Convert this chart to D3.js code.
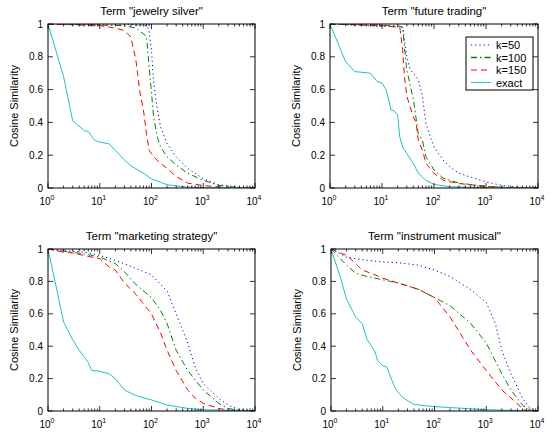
<!DOCTYPE html>
<html>
<head>
<meta charset="utf-8">
<script src="https://cdn.jsdelivr.net/npm/d3@7"></script>
<style>
  body { margin: 0; background: #fff; }
  svg { display: block; font-family: "Liberation Sans", Arial, sans-serif; }
</style>
</head>
<body>
<svg id="chart" width="558" height="434"></svg>
<script>
// values, [rank, similarity]
const seriesNames = ['k=50', 'k=100', 'k=150', 'exact']
const titles = ['Term "jewelry silver"', 'Term "future trading"', 'Term "marketing strategy"', 'Term "instrument musical"']
const yTicks = [0, 0.2, 0.4, 0.6, 0.8, 1]
const yTickLabels = ['0', '0.2', '0.4', '0.6', '0.8', '1']
const xTicks = [1, 10, 100, 1000, 10000]

const jewelryK50 = [[1, 1], [30, 1], [80, 0.99], [90, 0.96], [100, 0.84], [110, 0.64], [130, 0.475], [150, 0.37], [200, 0.27], [300, 0.19], [500, 0.12], [1000, 0.057], [2000, 0.02], [5000, 0.003], [10000, 0]]
const jewelryK100 = [[1, 1], [30, 0.99], [50, 0.975], [80, 0.925], [90, 0.74], [100, 0.58], [110, 0.43], [130, 0.31], [150, 0.25], [200, 0.19], [300, 0.14], [500, 0.09], [1000, 0.047], [2000, 0.016], [5000, 0.002], [10000, 0]]
const jewelryK150 = [[1, 1], [10, 0.99], [20, 0.975], [30, 0.96], [40, 0.92], [50, 0.78], [60, 0.58], [70, 0.475], [80, 0.33], [90, 0.23], [110, 0.19], [150, 0.15], [200, 0.12], [300, 0.07], [500, 0.03], [1000, 0.015], [3000, 0.002], [10000, 0]]
const jewelryExact = [[1, 1], [2, 0.68], [3, 0.41], [5, 0.35], [6, 0.345], [8, 0.29], [10, 0.28], [15, 0.27], [20, 0.23], [30, 0.17], [40, 0.135], [70, 0.09], [100, 0.055], [200, 0.02], [500, 0.005], [1000, 0.002], [10000, 0]]

const futureK50 = [[1, 1], [25, 0.98], [30, 0.8], [35, 0.72], [40, 0.7], [50, 0.66], [60, 0.56], [70, 0.39], [100, 0.25], [150, 0.17], [200, 0.13], [300, 0.09], [500, 0.067], [1000, 0.037], [2000, 0.016], [5000, 0.003], [10000, 0]]
const futureK100 = [[1, 1], [20, 0.99], [25, 0.98], [27, 0.86], [30, 0.72], [40, 0.54], [50, 0.33], [60, 0.29], [70, 0.19], [100, 0.11], [150, 0.06], [300, 0.03], [1000, 0.01], [3000, 0.002], [10000, 0]]
const futureK150 = [[1, 1], [10, 0.99], [22, 0.98], [25, 0.84], [27, 0.68], [30, 0.56], [40, 0.435], [45, 0.4], [50, 0.29], [60, 0.23], [70, 0.15], [100, 0.09], [150, 0.047], [300, 0.027], [1000, 0.01], [3000, 0.002], [10000, 0]]
const futureExact = [[1, 1], [2, 0.77], [3, 0.71], [6, 0.7], [8, 0.65], [10, 0.64], [12, 0.6], [15, 0.475], [17, 0.47], [20, 0.445], [22, 0.31], [25, 0.25], [30, 0.21], [40, 0.15], [50, 0.09], [70, 0.047], [100, 0.022], [200, 0.008], [1000, 0.002], [10000, 0]]

const marketingK50 = [[1, 1], [2, 0.99], [5, 0.98], [10, 0.96], [20, 0.93], [50, 0.88], [100, 0.84], [200, 0.74], [300, 0.6], [500, 0.42], [700, 0.27], [1000, 0.17], [2000, 0.078], [3000, 0.037], [5000, 0.008], [10000, 0]]
const marketingK100 = [[1, 1], [5, 0.97], [10, 0.95], [20, 0.91], [30, 0.86], [50, 0.78], [100, 0.7], [150, 0.62], [200, 0.54], [300, 0.375], [500, 0.25], [1000, 0.13], [2000, 0.047], [3000, 0.016], [5000, 0.003], [10000, 0]]
const marketingK150 = [[1, 1], [2, 0.98], [3, 0.975], [5, 0.96], [10, 0.94], [15, 0.89], [20, 0.87], [30, 0.79], [50, 0.72], [70, 0.66], [100, 0.6], [150, 0.48], [200, 0.375], [300, 0.25], [500, 0.13], [700, 0.08], [1000, 0.047], [2000, 0.016], [3000, 0.005], [10000, 0]]
const marketingExact = [[1, 1], [1.5, 0.74], [2, 0.55], [3, 0.44], [4, 0.375], [6, 0.3], [7, 0.25], [10, 0.245], [15, 0.23], [20, 0.2], [30, 0.13], [50, 0.095], [100, 0.068], [200, 0.037], [500, 0.016], [1000, 0.008], [10000, 0.001]]

const musicalK50 = [[1, 1], [2, 0.95], [3, 0.94], [5, 0.93], [10, 0.92], [20, 0.915], [50, 0.9], [100, 0.87], [200, 0.83], [500, 0.75], [1000, 0.67], [1500, 0.54], [2000, 0.375], [3000, 0.23], [5000, 0.08], [7000, 0.016], [10000, 0]]
const musicalK100 = [[1, 1], [2, 0.9], [3, 0.85], [5, 0.83], [10, 0.81], [20, 0.79], [50, 0.75], [100, 0.7], [200, 0.65], [500, 0.54], [1000, 0.42], [2000, 0.23], [3000, 0.13], [5000, 0.037], [7000, 0.005], [10000, 0]]
const musicalK150 = [[1, 1], [2, 0.96], [3, 0.91], [4, 0.87], [6, 0.85], [10, 0.82], [20, 0.79], [50, 0.75], [100, 0.7], [200, 0.58], [300, 0.49], [500, 0.375], [1000, 0.25], [2000, 0.13], [3000, 0.08], [5000, 0.016], [6000, 0.003], [10000, 0]]
const musicalExact = [[1, 1], [1.5, 0.83], [2, 0.69], [3, 0.58], [4, 0.54], [5, 0.44], [7, 0.37], [8, 0.31], [10, 0.28], [12, 0.27], [15, 0.19], [18, 0.13], [25, 0.08], [40, 0.04], [100, 0.027], [1000, 0.008], [10000, 0]]

const panels = [
  [jewelryK50, jewelryK100, jewelryK150, jewelryExact],
  [futureK50, futureK100, futureK150, futureExact],
  [marketingK50, marketingK100, marketingK150, marketingExact],
  [musicalK50, musicalK100, musicalK150, musicalExact]
]

const colors = ['#0000ff', '#008000', '#ff0000', '#1cc4c4']
const dashes = ['1.2,3', '6,3,1.5,3', '6,4', null]

const svg = d3.select('#chart')

// plot boxes: [left, top, width, height]
const boxes = [[48, 24, 207, 164], [330, 24, 208, 164], [48, 249, 207, 162], [331, 249, 207, 162]]

boxes.forEach((b, i) => {
  const [left, top, w, h] = b
  const g = svg.append('g').attr('transform', `translate(${left},${top})`)
  const x = d3.scaleLog().domain([1, 10000]).range([0, w])
  const y = d3.scaleLinear().domain([0, 1]).range([h, 0])

  const clipId = 'clip' + i
  g.append('clipPath').attr('id', clipId).append('rect').attr('width', w).attr('height', h)

  const line = d3.line().x(d => x(d[0])).y(d => y(d[1]))
  const plot = g.append('g').attr('clip-path', `url(#${clipId})`)
  panels[i].forEach((s, j) => {
    plot.append('path')
      .datum(s)
      .attr('d', line)
      .attr('fill', 'none')
      .attr('stroke', colors[j])
      .attr('stroke-width', 1)
      .attr('stroke-dasharray', dashes[j])
  })

  // inward ticks on all four sides, matlab style
  const minor = []
  for (let d = 1; d < 10000; d *= 10) {
    for (let m = 2; m < 10; m++) minor.push(d * m)
  }
  const tk = g.append('g').attr('stroke', '#000').attr('stroke-width', 0.8)
  xTicks.forEach(t => {
    tk.append('line').attr('x1', x(t)).attr('x2', x(t)).attr('y1', h).attr('y2', h - 5)
    tk.append('line').attr('x1', x(t)).attr('x2', x(t)).attr('y1', 0).attr('y2', 5)
  })
  minor.forEach(t => {
    tk.append('line').attr('x1', x(t)).attr('x2', x(t)).attr('y1', h).attr('y2', h - 2.5)
    tk.append('line').attr('x1', x(t)).attr('x2', x(t)).attr('y1', 0).attr('y2', 2.5)
  })
  yTicks.forEach(t => {
    tk.append('line').attr('x1', 0).attr('x2', 5).attr('y1', y(t)).attr('y2', y(t))
    tk.append('line').attr('x1', w).attr('x2', w - 5).attr('y1', y(t)).attr('y2', y(t))
  })

  g.append('rect').attr('width', w).attr('height', h)
    .attr('fill', 'none').attr('stroke', '#000').attr('stroke-width', 1)

  // tick labels
  yTicks.forEach((t, k) => {
    g.append('text').attr('x', -5).attr('y', y(t) + 3.5)
      .attr('text-anchor', 'end').attr('font-size', 10).text(yTickLabels[k])
  })
  xTicks.forEach((t, k) => {
    const lab = g.append('text').attr('x', x(t) - 1).attr('y', h + 17)
      .attr('text-anchor', 'middle').attr('font-size', 10)
    lab.append('tspan').text('10')
    lab.append('tspan').attr('dy', -5).attr('font-size', 7).text(String(k))
  })

  g.append('text').attr('x', w / 2).attr('y', -9)
    .attr('text-anchor', 'middle').attr('font-size', 11.5).text(titles[i])

  g.append('text')
    .attr('transform', `translate(-30,${h / 2}) rotate(-90)`)
    .attr('text-anchor', 'middle').attr('font-size', 11).text('Cosine Similarity')

  // legend only in the second panel
  if (i === 1) {
    const lg = g.append('g').attr('transform', `translate(${w - 72},${13})`)
    lg.append('rect').attr('width', 67).attr('height', 53)
      .attr('fill', '#fff').attr('stroke', '#000').attr('stroke-width', 1)
    seriesNames.forEach((n, j) => {
      const yy = 8 + j * 12.5
      lg.append('line').attr('x1', 5).attr('x2', 25).attr('y1', yy).attr('y2', yy)
        .attr('stroke', colors[j]).attr('stroke-width', j === 1 ? 1.5 : 1)
        .attr('stroke-dasharray', dashes[j])
      lg.append('text').attr('x', 30).attr('y', yy + 4).attr('font-size', 11).text(n)
    })
  }
})
</script>
</body>
</html>
